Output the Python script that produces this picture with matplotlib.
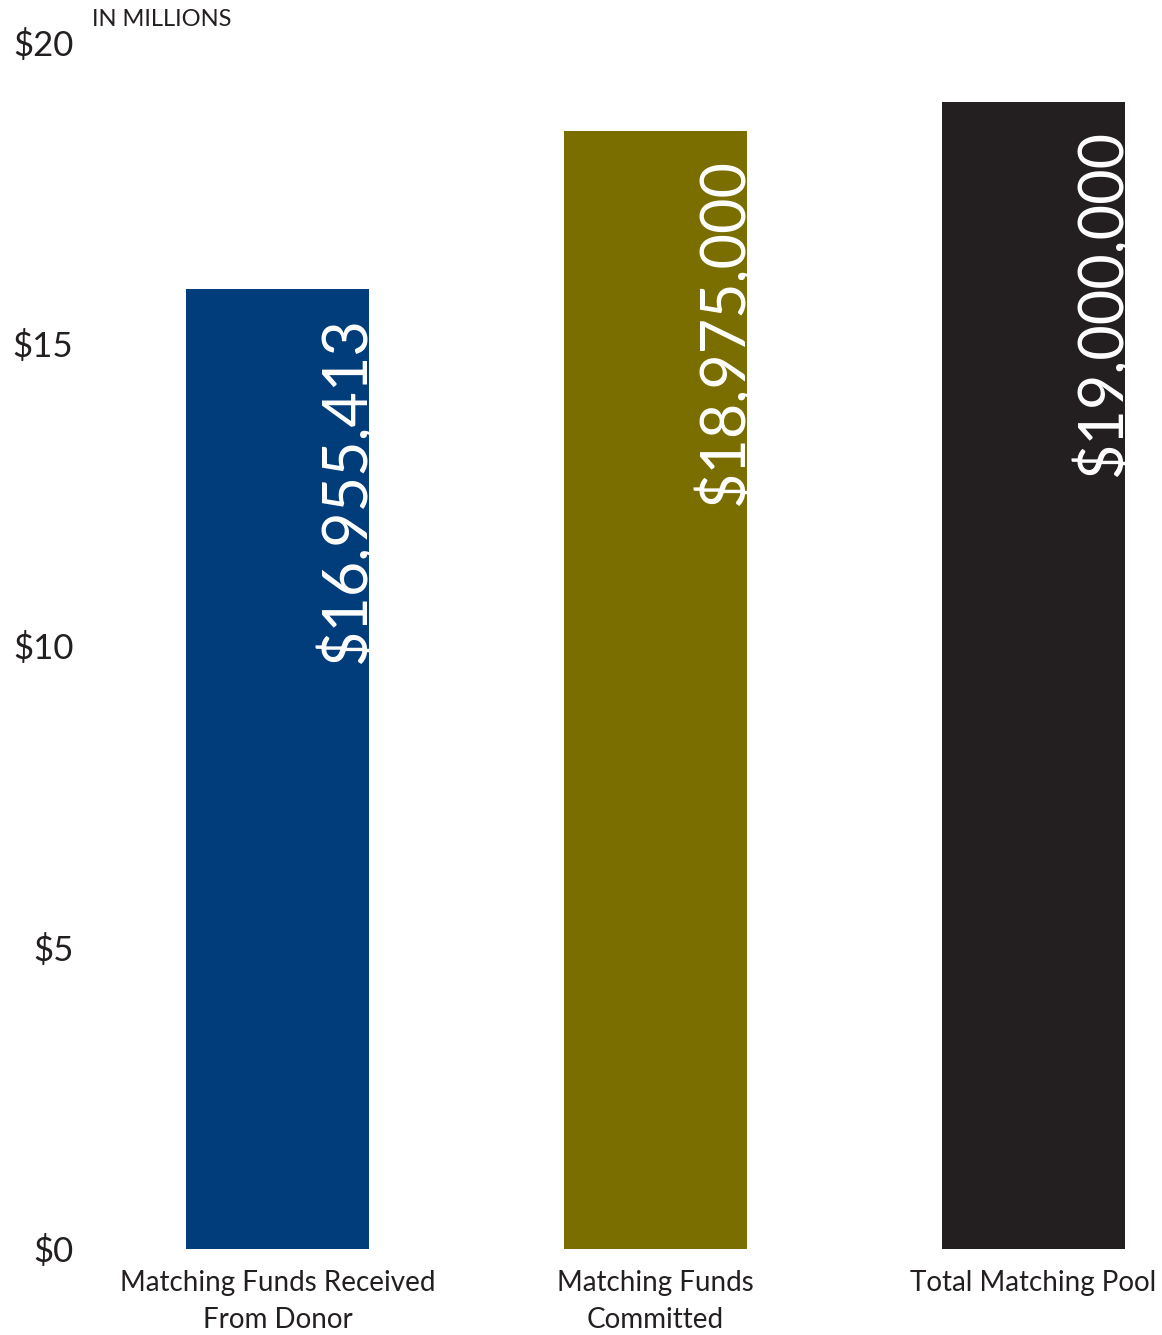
import matplotlib
matplotlib.use("Agg")
import matplotlib.pyplot as plt

plt.rcParams['font.family'] = ['Lato', 'DejaVu Sans']

# data (bar heights in millions)
categories = ["Matching Funds Received\nFrom Donor", "Matching Funds\nCommitted", "Total Matching Pool"]
values = [15.9, 18.52, 19.0]
value_labels = ["$16,955,413", "$18,975,000", "$19,000,000"]
colors = ["#003d7a", "#7a6e00", "#231f20"]
yticks = [0, 5, 10, 15, 20]
ytick_labels = ["$0", "$5", "$10", "$15", "$20"]

text_color = "#231f20"
W, H = 1162, 1335

fig = plt.figure(figsize=(W / 100, H / 100), dpi=100)
ax = fig.add_axes([90 / W, (H - 1249) / H, (W - 90) / W, (1249 - 42) / H])

width = 183 / 378
xs = list(range(len(values)))
bars = ax.bar(xs, values, width=width, color=colors, zorder=2)

ax.set_xlim((90 - 277.5) / 378, (W - 277.5) / 378)
ax.set_ylim(0, 20)

# rotated value labels inside bars, clipped at the bar edge
for x, v, lab, b in zip(xs, values, value_labels, bars):
    t = ax.annotate(lab, xy=(x + width / 2, v), xytext=(-3, -20),
                    textcoords="offset points", rotation=90,
                    rotation_mode="anchor", ha="right", va="baseline",
                    fontsize=44, color="white", zorder=3)
    t.set_clip_path(b)

ax.set_yticks(yticks)
ax.set_yticklabels(ytick_labels, fontsize=25, color=text_color)
ax.set_xticks(xs)
ax.set_xticklabels(categories, fontsize=20, color=text_color, linespacing=1.55)
ax.tick_params(axis="both", length=0)
ax.tick_params(axis="y", pad=12)
ax.tick_params(axis="x", pad=15)
for s in ax.spines.values():
    s.set_visible(False)

fig.text(92 / W, 1 - 19 / H, "IN MILLIONS", fontsize=17, color=text_color,
         ha="left", va="center")

fig.savefig("out.png", dpi=100)
